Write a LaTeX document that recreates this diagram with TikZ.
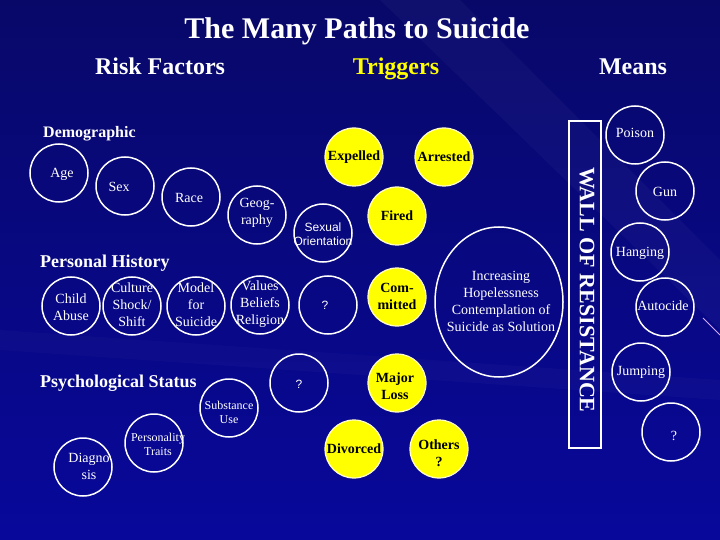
\documentclass[tikz,border=0pt]{standalone}
\usepackage{fontspec}
\usetikzlibrary{shapes.geometric}
\setmainfont{Liberation Serif}
\newfontfamily\sansf{Liberation Sans}
\definecolor{bgtop}{RGB}{8,8,105}
\definecolor{bgmid}{RGB}{20,20,190}
\definecolor{bgbot}{RGB}{8,8,155}
\definecolor{trig}{RGB}{255,255,0}
\definecolor{streak}{RGB}{210,170,255}
\tikzset{
  rf/.style={circle, draw=white, line width=1.5pt, minimum size=58pt, inner sep=0pt},
  yc/.style={circle, draw=white!80!yellow, line width=1.2pt, fill=trig, minimum size=58pt, inner sep=0pt},
  ct/.style={text=white, align=center, font=\fontsize{14}{17}\selectfont, inner sep=0pt},
  ctsm/.style={text=white, align=center, font=\fontsize{12}{14}\selectfont, inner sep=0pt},
  yt/.style={text=black, align=center, font=\bfseries\fontsize{14}{17}\selectfont, inner sep=0pt},
  st/.style={text=white, align=center, font=\sansf\fontsize{12}{14}\selectfont, inner sep=0pt},
  head/.style={text=white, font=\bfseries\fontsize{24}{28}\selectfont, anchor=base, inner sep=0pt},
  sec/.style={text=white, font=\bfseries\fontsize{18}{22}\selectfont, anchor=base west, inner sep=0pt},
}
\begin{document}
\begin{tikzpicture}[x=1pt,y=-1pt]
\useasboundingbox (0,0) rectangle (720,540);
% background
\shade[top color=bgtop, middle color=bgmid, bottom color=bgbot] (0,0) rectangle (720,540);
\fill[white, opacity=0.03] (380,0) -- (460,0) -- (720,260) -- (720,330) -- cycle;
\fill[white, opacity=0.025] (0,330) -- (720,380) -- (720,400) -- (0,350) -- cycle;
\draw[streak, line width=0.9pt] (703,318) -- (720,335);

% titles
\node[head, font=\bfseries\fontsize{30}{34}\selectfont] (title) at (357,39) {The Many Paths to Suicide};
\node[head] (risk) at (160,75) {Risk Factors};
\node[head, text=trig] (trg) at (396,75) {Triggers};
\node[head] (means) at (633,75) {Means};

% section labels
\node[sec, font=\bfseries\fontsize{16}{19}\selectfont] (demo) at (43,138) {Demographic};
\node[sec] (pers) at (40,267) {Personal History};
\node[sec] (psych) at (40,387) {Psychological Status};

% demographic
\node[rf] (age) at (59,173) {};   \node[ct] at (62,174) {Age};
\node[rf] (sex) at (125,186) {};  \node[ct] at (119,187) {Sex};
\node[rf] (race) at (191,197) {}; \node[ct] at (189,198) {Race};
\node[rf] (geo) at (257,215) {};  \node[ct] at (257,213) {Geog-\\raphy};
\node[rf] (sexor) at (323,233) {}; \node[st] at (323,234) {Sexual\\Orientation};

% personal history
\node[rf] (child) at (71,306) {};  \node[ct] at (71,307) {Child\\Abuse};
\node[rf] (cult) at (132,306) {};  \node[ct] at (132,305) {Culture\\Shock/\\Shift};
\node[rf] (model) at (196,306) {}; \node[ct] at (196,305) {Model\\for\\Suicide};
\node[rf] (values) at (260,305) {};\node[ct] at (260,304) {Values\\Beliefs\\Religion};
\node[rf] (q1) at (328,305) {};    \node[st] at (325,305) {?};

% psychological
\node[rf] (subst) at (229,408) {}; \node[ctsm] at (229,412) {Substance\\Use};
\node[rf] (q2) at (299,383) {};    \node[st] at (299,384) {?};
\node[rf] (perst) at (154,443) {}; \node[ctsm] at (158,444) {Personality\\Traits};
\node[rf] (diag) at (83,467) {};   \node[ct] at (89,466) {Diagno\\sis};

% triggers
\node[yc] (expelled) at (354,157) {};  \node[yt] at (354,157) {Expelled};
\node[yc] (arrested) at (444,157) {};  \node[yt] at (444,157) {Arrested};
\node[yc] (fired) at (397,216) {};     \node[yt] at (397,216) {Fired};
\node[yc] (committed) at (397,297) {}; \node[yt] at (397,296) {Com-\\mitted};
\node[yc] (major) at (397,383) {};     \node[yt] at (395,386) {Major\\Loss};
\node[yc] (divorced) at (354,449) {};  \node[yt] at (354,449) {Divorced};
\node[yc] (others) at (439,449) {};    \node[yt] at (439,453) {Others\\?};

% hopelessness
\node[ellipse, draw=white, line width=1.5pt, minimum width=128pt, minimum height=150pt, inner sep=0pt] (hope) at (499,302) {};
\node[ct] at (501,301) {Increasing\\Hopelessness\\Contemplation of\\Suicide as Solution};

% wall
\node[draw=white, line width=1.5pt, minimum width=32pt, minimum height=327pt, inner sep=0pt] (wall) at (585,284.5) {};
\node[text=white, font=\bfseries\fontsize{22}{26}\selectfont, rotate=-90, inner sep=0pt] at (587,290) {WALL OF RESISTANCE};

% means
\node[rf] (poison) at (635,135) {};   \node[ct] at (635,133) {Poison};
\node[rf] (gun) at (665,191) {};      \node[ct] at (665,192) {Gun};
\node[rf] (hanging) at (640,252) {};  \node[ct] at (640,253) {Hanging};
\node[rf] (autocide) at (665,307) {}; \node[ct] at (663,306) {Autocide};
\node[rf] (jumping) at (641,372) {};  \node[ct] at (641,372) {Jumping};
\node[rf] (q3) at (671,432) {};       \node[ct] at (674,436) {?};
\end{tikzpicture}
\end{document}
